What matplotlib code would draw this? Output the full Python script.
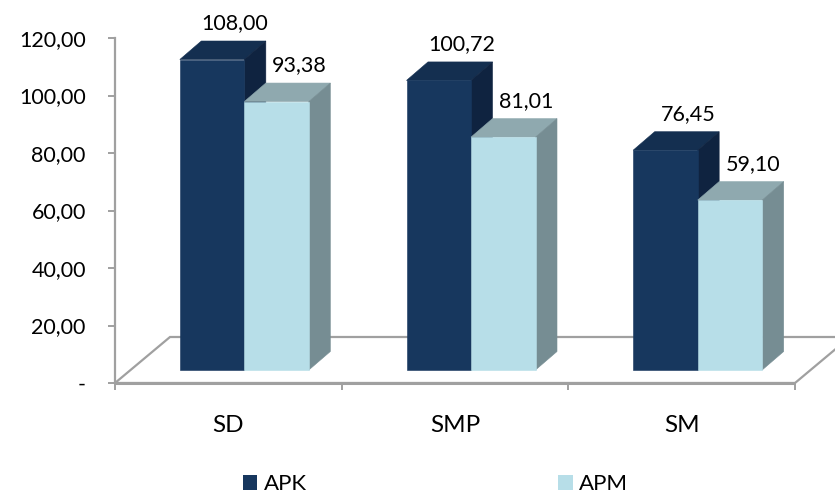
import matplotlib
matplotlib.use("Agg")
import matplotlib.pyplot as plt
from matplotlib.patches import Polygon, Patch

plt.rcParams['font.family'] = ['Lato', 'DejaVu Sans']

categories = ["SD", "SMP", "SM"]
apk = [108.00, 100.72, 76.45]
apm = [93.38, 81.01, 59.10]
series_names = ["APK", "APM"]
value_labels_apk = ["108,00", "100,72", "76,45"]
value_labels_apm = ["93,38", "81,01", "59,10"]
yticks = [0, 20, 40, 60, 80, 100, 120]
ytick_labels = ["-", "20,00", "40,00", "60,00", "80,00", "100,00", "120,00"]

W, H = 835, 497
fig = plt.figure(figsize=(W / 100, H / 100), dpi=100)
ax_l, ax_r, ax_b, ax_t = 115, 795, 383, 38  # pixel frame of the value axis
ax = fig.add_axes([ax_l / W, (H - ax_b) / H, (ax_r - ax_l) / W, (ax_b - ax_t) / H])
ax.set_xlim(-0.5, 2.5)
ax.set_ylim(0, 120)

# pixel -> data unit conversions
px_x = (ax_r - ax_l) / 3.0
px_y = (ax_b - ax_t) / 120.0
def dx(p):
    return p / px_x
def dy(p):
    return p / px_y

grey = "#A0A0A0"

# floor
fdx, fdy = dx(55), dy(46)
floor = Polygon([(-0.5, 0), (2.5, 0), (2.5 + fdx, fdy), (-0.5 + fdx, fdy)],
                closed=True, facecolor="white", edgecolor=grey, lw=1.6,
                clip_on=False, zorder=1)
ax.add_patch(floor)
ax.plot([-0.5, 2.5], [0, 0], color=grey, lw=2.2, clip_on=False, zorder=1.5,
        solid_capstyle="butt")

colors = {
    "APK": ("#17375E", "#142F50", "#0F2340"),
    "APM": ("#B7DEE8", "#8FA9AF", "#768D93"),
}

bw = 64.5 / px_x
off_x, off_y = dx(16), dy(13)     # bars sit inside the floor
dep_x, dep_y = dx(21.5), dy(18.5)  # bar depth

def face(pts, col, z):
    ax.add_patch(Polygon(pts, closed=True, facecolor=col, edgecolor=col, lw=0.4,
                         joinstyle="miter", clip_on=False, zorder=z))

def bar3d(x0, h, cols, label, z):
    front, top, side = cols
    xl = x0 + off_x
    xr = xl + bw
    yb = off_y
    yt = off_y + h
    face([(xl, yt), (xr, yt), (xr + dep_x, yt + dep_y), (xl + dep_x, yt + dep_y)], top, z)
    face([(xr, yb), (xr + dep_x, yb + dep_y), (xr + dep_x, yt + dep_y), (xr, yt)], side, z)
    face([(xl, yb), (xr, yb), (xr, yt), (xl, yt)], front, z + 0.01)
    ax.text(xl + bw / 2 + dep_x / 2 + dx(12), yt + dep_y + dy(17.5), label,
            ha="center", va="center", fontsize=15.5, color="#000000", zorder=10,
            clip_on=False)

z = 3
for i in range(len(categories)):
    bar3d(i - bw, apk[i], colors["APK"], value_labels_apk[i], z)
    bar3d(i, apm[i], colors["APM"], value_labels_apm[i], z + 0.1)
    z += 0.2

# axes styling
for s in ["top", "right", "bottom"]:
    ax.spines[s].set_visible(False)
ax.spines["left"].set_color(grey)
ax.spines["left"].set_linewidth(1.6)
ax.spines["left"].set_zorder(2)

ax.set_yticks(yticks)
ax.set_yticklabels(ytick_labels)
ax.tick_params(axis="y", direction="out", length=5, width=1.4, color=grey,
               pad=16, labelsize=15.5)

ax.set_xticks([0, 1, 2])
ax.set_xticklabels(categories)
ax.set_xticks([-0.5, 0.5, 1.5, 2.5], minor=True)
ax.tick_params(axis="x", which="major", length=0, pad=23, labelsize=17.5)
ax.tick_params(axis="x", which="minor", direction="out", length=5, width=1.4,
               color=grey)

handles = [Patch(facecolor=colors[n][0], edgecolor="none") for n in series_names]
fig.legend(handles, series_names, loc="center", bbox_to_anchor=(0.5216, 0.026),
           ncol=2, frameon=False, fontsize=16, handlelength=0.65, handleheight=0.65,
           handletextpad=0.3, columnspacing=11.3, borderpad=0)

fig.savefig("out.png", dpi=100)
